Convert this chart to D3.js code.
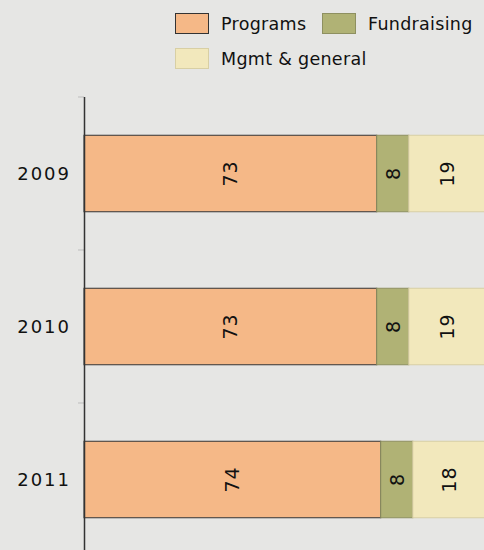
<!DOCTYPE html>
<html>
<head>
<meta charset="utf-8">
<script src="https://cdn.jsdelivr.net/npm/d3@7"></script>
<style>
  body { margin: 0; background: #e6e6e4; }
  svg { display: block; font-family: "DejaVu Sans", sans-serif; }
</style>
</head>
<body>
<div id="chart"></div>
<script>
const years = ["2009", "2010", "2011"]
const seriesNames = ["Programs", "Fundraising", "Mgmt & general"]
const programs = [73, 73, 74]
const fundraising = [8, 8, 8]
const mgmt = [19, 19, 18]

const colors = ["#f5b887", "#b0b275", "#f2e8bc"]
const strokes = ["#333333", "#8e9060", "#d8cfa4"]

const width = 484
const height = 550

const svg = d3.select("#chart")
  .append("svg")
  .attr("width", width)
  .attr("height", height)

svg.append("rect")
  .attr("width", width)
  .attr("height", height)
  .attr("fill", "#e6e6e4")

const xScale = d3.scaleLinear()
  .domain([0, 100])
  .range([84, 485])

const yScale = d3.scaleBand()
  .domain(years)
  .range([97, 556])
  .paddingInner(0.5)
  .paddingOuter(0.25)

const rows = years.map((y, i) => ({year: y, values: [programs[i], fundraising[i], mgmt[i]]}))
const stacked = d3.stack().keys([0, 1, 2]).value((d, k) => d.values[k])(rows)

// band separator ticks
const step = yScale.step()
years.forEach(y => {
  svg.append("line")
    .attr("x1", 78).attr("x2", 84)
    .attr("y1", yScale(y) - step * 0.25)
    .attr("y2", yScale(y) - step * 0.25)
    .attr("stroke", "#bdbdbd")
    .attr("stroke-width", 1)
})

stacked.forEach((layer, k) => {
  const g = svg.append("g")
  g.selectAll("rect")
    .data(layer)
    .enter()
    .append("rect")
    .attr("x", d => xScale(d[0]))
    .attr("y", d => yScale(d.data.year))
    .attr("width", d => xScale(d[1]) - xScale(d[0]))
    .attr("height", yScale.bandwidth())
    .attr("fill", colors[k])
    .attr("stroke", strokes[k])
    .attr("stroke-width", 1)

  g.selectAll("text")
    .data(layer)
    .enter()
    .append("text")
    .attr("transform", d => {
      const cx = (xScale(d[0]) + xScale(d[1])) / 2
      const cy = yScale(d.data.year) + yScale.bandwidth() / 2
      return `translate(${cx},${cy}) rotate(-90)`
    })
    .attr("text-anchor", "middle")
    .attr("dy", "0.36em")
    .attr("font-size", 19)
    .attr("letter-spacing", 1)
    .attr("fill", "#111")
    .text(d => d[1] - d[0])
})

// left axis line
svg.append("line")
  .attr("x1", 84.5).attr("x2", 84.5)
  .attr("y1", 97).attr("y2", height)
  .attr("stroke", "#333")
  .attr("stroke-width", 1.5)

svg.selectAll(".year")
  .data(years)
  .enter()
  .append("text")
  .attr("class", "year")
  .attr("x", 71)
  .attr("y", d => yScale(d) + yScale.bandwidth() / 2)
  .attr("dy", "0.36em")
  .attr("text-anchor", "end")
  .attr("font-size", 18)
  .attr("letter-spacing", 2)
  .attr("fill", "#111")
  .text(d => d)

// legend
const legendPos = [[175, 13], [322, 13], [175, 48]]
seriesNames.forEach((name, i) => {
  const [lx, ly] = legendPos[i]
  svg.append("rect")
    .attr("x", lx + 0.5).attr("y", ly + 0.5)
    .attr("width", 33).attr("height", 20)
    .attr("fill", colors[i])
    .attr("stroke", i === 0 ? "#333" : strokes[i])
  svg.append("text")
    .attr("x", lx + 46)
    .attr("y", ly + 11)
    .attr("dy", "0.35em")
    .attr("font-size", 17.5)
    .attr("letter-spacing", 0.3)
    .attr("fill", "#111")
    .text(name)
})
</script>
</body>
</html>
